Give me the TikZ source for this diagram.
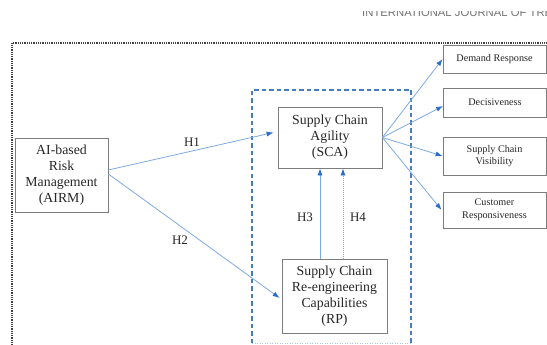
\documentclass[tikz,border=0pt]{standalone}
\usepackage{fontspec}
\setmainfont{Liberation Serif}
\newfontfamily\hdrfont{Liberation Sans}
\usetikzlibrary{arrows.meta}
\definecolor{arrowblue}{RGB}{125,170,225}
\definecolor{tipblue}{RGB}{40,110,205}
\definecolor{frameblue}{RGB}{70,125,190}
\definecolor{boxgray}{RGB}{125,125,125}
\begin{document}
\begin{tikzpicture}[x=1pt,y=-1pt,
  bigbox/.style={draw=boxgray, line width=0.8pt, align=center, inner sep=0pt,
    font=\fontsize{13.8}{16}\selectfont, text=black!85},
  smallbox/.style={draw=boxgray, line width=0.8pt, align=center, inner sep=0pt,
    minimum width=103pt, font=\fontsize{10.2}{12.6}\selectfont, text=black!85},
  link/.style={draw=arrowblue, line width=0.8pt, -{Latex[length=7pt,width=5pt,color=tipblue]}},
  hlabel/.style={font=\fontsize{13}{13}\selectfont, text=black!85},
  outerdot/.style={draw=black!75, line width=1.4pt, dash pattern=on 0.9pt off 0.9pt},
  framedash/.style={draw=frameblue, line width=1.3pt, dash pattern=on 4.5pt off 3pt}]
\useasboundingbox (0,0) rectangle (547,345);
% cut-off header
\begin{scope}
\clip (340,12) rectangle (547,22);
\node[anchor=base west, font=\hdrfont\fontsize{11.3}{11.3}\selectfont, text=black!55, inner sep=0pt] (hdr) at (362,16.5) {INTERNATIONAL JOURNAL OF TRENDS};
\end{scope}
% frames
\coordinate (ob) at (12,350);
\coordinate (otl) at (12,43);
\coordinate (otr) at (552,43);
\draw[outerdot] (ob) -- (otl) -- (otr);
\coordinate (fbl) at (252,343);
\coordinate (ftl) at (252,90);
\coordinate (ftr) at (411,90);
\coordinate (fbr) at (411,343);
\draw[framedash] (fbl) -- (ftl) -- (ftr) -- (fbr);
\draw[draw=frameblue!45, line width=0.8pt, dash pattern=on 1pt off 1.5pt] (fbl) -- (fbr);
% nodes
\node[bigbox, minimum width=93pt, minimum height=74pt] (airm) at (61.5,175) {AI-based\\Risk\\Management\\(AIRM)};
\node[bigbox, minimum width=104pt, minimum height=61pt] (sca) at (330,137.5) {Supply Chain\\Agility\\(SCA)};
\node[bigbox, minimum width=105pt, minimum height=74pt] (rp) at (334.5,296) {Supply Chain\\Re-engineering\\Capabilities\\(RP)};
\node[smallbox, minimum height=28pt] (dr) at (494.5,59) {Demand Response};
\node[smallbox, minimum height=29pt] (dec) at (495,102.5) {Decisiveness};
\node[smallbox, minimum height=38pt] (vis) at (494.5,156) {Supply Chain\\Visibility};
\node[smallbox, minimum height=36pt] (cr) at (494.5,210) {Customer\\Responsiveness};
% connectors
\draw[link] ([yshift=5pt]airm.east) -- ([xshift=-4pt,yshift=5pt]sca.west);
\draw[link] ([yshift=1pt]airm.east) -- ([xshift=-2pt,yshift=-2pt]rp.west);
\draw[link] ([xshift=-14.5pt]rp.north) -- ([xshift=-10pt]sca.south);
\draw[link, dash pattern=on 1pt off 1pt] ([xshift=8.5pt]rp.north) -- ([xshift=13pt]sca.south);
\draw[link] (sca.east) -- (dr.west);
\draw[link] (sca.east) -- ([yshift=-3.5pt]dec.west);
\draw[link] (sca.east) -- (vis.west);
\draw[link] (sca.east) -- ([xshift=-1pt]cr.west);
% labels
\node[hlabel] (h1) at (192,142) {H1};
\node[hlabel] (h2) at (180,240) {H2};
\node[hlabel] (h3) at (305,217) {H3};
\node[hlabel] (h4) at (358,217) {H4};
\end{tikzpicture}
\end{document}
